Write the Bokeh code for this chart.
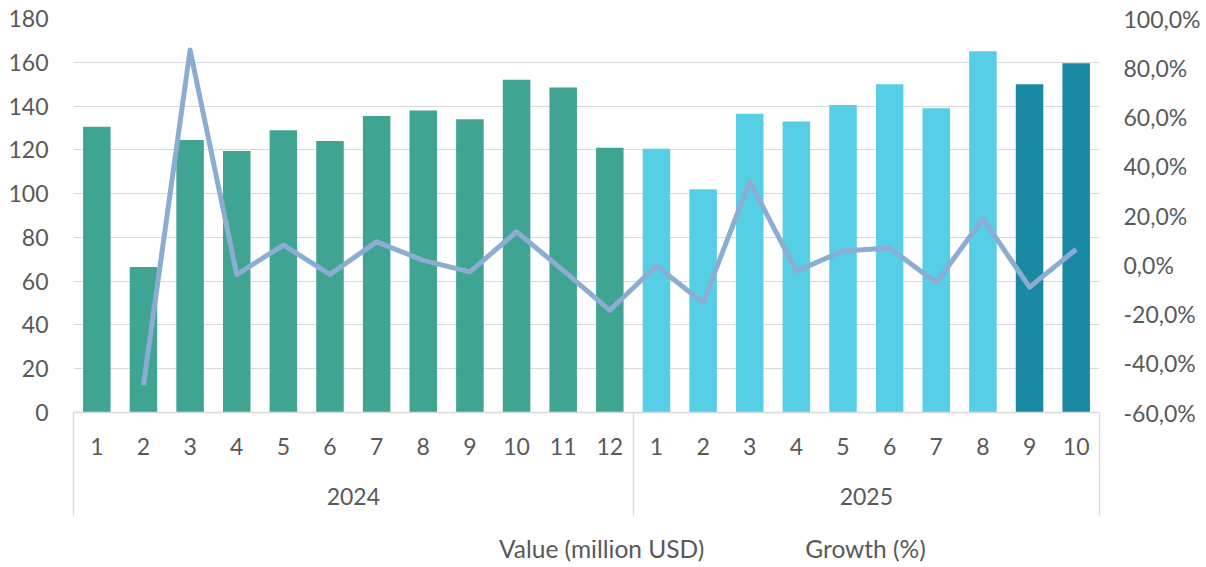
from bokeh.plotting import figure
from bokeh.layouts import column
from bokeh.models import (ColumnDataSource, Range1d, LinearAxis, FixedTicker,
                          CustomJSTickFormatter, Legend, LegendItem)
from bokeh.embed import file_html
from bokeh.resources import INLINE

# ---- data ----
years = ["2024"] * 12 + ["2025"] * 10
months = [str(m) for m in range(1, 13)] + [str(m) for m in range(1, 11)]
values = [130.5, 66.5, 124.5, 119.5, 129.0, 124.0, 135.5, 138.0, 134.0, 152.0, 148.5, 121.0,
          120.5, 102.0, 136.5, 133.0, 140.5, 150.0, 139.0, 165.0, 150.0, 159.5]
growth = [float("nan"), -49.0, 87.2, -4.0, 8.0, -3.9, 9.3, 1.8, -2.9, 13.4, -2.3, -18.5,
          -0.4, -15.4, 33.8, -2.6, 5.6, 6.8, -7.3, 18.7, -9.1, 6.3]
left_ticks = list(range(0, 181, 20))
right_ticks = list(range(-60, 101, 20))
series_names = ["Value (million USD)", "Growth (%)"]
highlight_last = 2  # latest months shown in dark colour

FONT = "Lato"
FS = "23px"
TXT = "#595959"
GRID = "#D9D9D9"
C2024 = "#3FA491"
C2025 = "#55CEE6"
CDARK = "#1A89A3"
CLINE = "#8CADD3"

n = len(months)
xpos = [i + 0.5 for i in range(n)]  # category slot centres
colors = []
for i, y in enumerate(years):
    if y == "2024":
        colors.append(C2024)
    elif i >= n - highlight_last:
        colors.append(CDARK)
    else:
        colors.append(C2025)

src = ColumnDataSource(dict(x=xpos, value=values, growth=growth, color=colors))

p = figure(width=1206, height=540, x_range=Range1d(0, n), y_range=Range1d(0, 180),
           x_axis_location=None, output_backend="svg",
           toolbar_location=None, min_border_left=73, min_border_right=107,
           min_border_top=18, min_border_bottom=128)
p.outline_line_color = None
p.background_fill_color = "white"
p.border_fill_color = "white"

p.extra_y_ranges = {"growth": Range1d(-60, 100)}

bars = p.vbar(x="x", top="value", width=0.59, fill_color="color", line_color=None, source=src)
line = p.line(x="x", y="growth", y_range_name="growth", line_width=5, line_color=CLINE,
              line_join="round", source=src)

# left axis
ya = p.yaxis[0]
ya.ticker = FixedTicker(ticks=left_ticks, minor_ticks=[])
ya.axis_line_color = None
ya.major_tick_line_color = None
ya.major_tick_out = 0
ya.major_tick_in = 0
ya.minor_tick_line_color = None
ya.minor_tick_out = 0
ya.major_label_standoff = 25
ya.major_label_text_font = FONT
ya.major_label_text_font_size = FS
ya.major_label_text_color = TXT
p.ygrid.grid_line_color = GRID
p.ygrid.grid_line_width = 1
p.xgrid.grid_line_color = None

# right axis
ra = LinearAxis(y_range_name="growth", ticker=FixedTicker(ticks=right_ticks, minor_ticks=[]),
                formatter=CustomJSTickFormatter(code="return tick.toFixed(1).replace('.', ',') + '%';"))
ra.axis_line_color = None
ra.major_tick_line_color = None
ra.major_tick_out = 0
ra.major_tick_in = 0
ra.minor_tick_line_color = None
ra.minor_tick_out = 0
ra.major_label_standoff = 24
ra.major_label_text_font = FONT
ra.major_label_text_font_size = FS
ra.major_label_text_color = TXT
p.add_layout(ra, "right")

# month axis
ma = LinearAxis(ticker=FixedTicker(ticks=xpos, minor_ticks=[]),
                major_label_overrides={c: m for c, m in zip(xpos, months)})
ma.axis_line_color = GRID
ma.axis_line_width = 1.3
ma.major_tick_line_color = None
ma.major_tick_out = 0
ma.major_tick_in = 0
ma.minor_tick_line_color = None
ma.minor_tick_out = 0
ma.major_label_standoff = 25
ma.major_label_text_font = FONT
ma.major_label_text_font_size = FS
ma.major_label_text_color = TXT
p.add_layout(ma, "below")

# year axis; its minor ticks at the year boundaries draw the group separators
bounds = [0]
for i in range(1, n):
    if years[i] != years[i - 1]:
        bounds.append(i)
bounds.append(n)
yr_pos, yr_lab = [], []
for a, b in zip(bounds[:-1], bounds[1:]):
    yr_pos.append((a + b) / 2)
    yr_lab.append(years[a])
ga = LinearAxis(ticker=FixedTicker(ticks=yr_pos, minor_ticks=bounds),
                major_label_overrides={c: l for c, l in zip(yr_pos, yr_lab)})
ga.axis_line_color = None
ga.major_tick_line_color = None
ga.major_tick_out = 0
ga.major_tick_in = 0
ga.minor_tick_line_color = GRID
ga.minor_tick_line_width = 1.3
ga.minor_tick_in = 45
ga.minor_tick_out = 58
ga.major_label_standoff = -28
ga.major_label_text_font = FONT
ga.major_label_text_font_size = FS
ga.major_label_text_color = TXT
p.add_layout(ga, "below")

# legend strip drawn as a separate small figure below the chart
lg = figure(width=1206, height=27, x_range=Range1d(0, 1), y_range=Range1d(0, 1),
            x_axis_location=None, y_axis_location=None, output_backend="svg",
            toolbar_location=None, min_border=0)
lg.outline_line_color = None
lg.xgrid.grid_line_color = None
lg.ygrid.grid_line_color = None
empty = ColumnDataSource(dict(x=[], top=[], y=[]))
lbar = lg.vbar(x="x", top="top", width=0.5, fill_color=CDARK, line_color=None, source=empty)
lline = lg.line(x="x", y="y", line_width=5, line_color=CLINE, source=empty)
legend = Legend(items=[LegendItem(label=series_names[0], renderers=[lbar]),
                       LegendItem(label=series_names[1], renderers=[lline])],
                location=(362, 4), orientation="horizontal", padding=0, margin=0,
                spacing=37, glyph_width=62, glyph_height=18, label_standoff=2,
                label_text_font=FONT, label_text_font_size="24.5px", label_text_color=TXT,
                border_line_color=None, background_fill_alpha=0)
lg.add_layout(legend)

layout = column(p, lg, spacing=0)
open("out.html", "w").write(file_html(layout, INLINE))
